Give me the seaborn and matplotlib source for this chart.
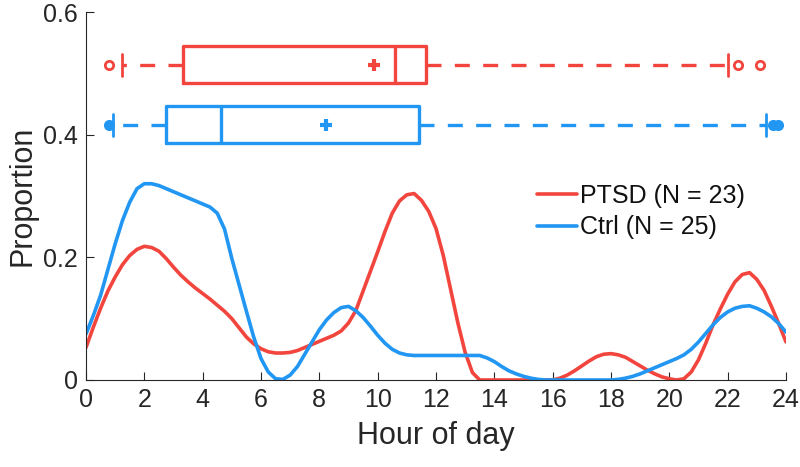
import numpy as np
import pandas as pd
import matplotlib
matplotlib.use("Agg")
import matplotlib.pyplot as plt
import seaborn as sns

# Hours on a quarter-hour grid and proportion
hours = [i * 0.25 for i in range(97)]

ptsd_prop = [0.053, 0.086, 0.117, 0.145, 0.168, 0.188, 0.203, 0.213,
             0.218, 0.216, 0.210, 0.198, 0.184, 0.171, 0.160, 0.150,
             0.141, 0.132, 0.122, 0.112, 0.100, 0.085, 0.070, 0.059,
             0.051, 0.046, 0.044, 0.044, 0.045, 0.048, 0.053, 0.058,
             0.063, 0.068, 0.073, 0.080, 0.093, 0.113, 0.145, 0.177,
             0.209, 0.242, 0.272, 0.292, 0.302, 0.304, 0.293, 0.275,
             0.247, 0.203, 0.148, 0.093, 0.045, 0.012, 0.000, 0.000,
             0.000, 0.000, 0.000, 0.000, 0.000, 0.000, 0.000, 0.000,
             0.000, 0.003, 0.008, 0.015, 0.023, 0.031, 0.038, 0.042,
             0.043, 0.041, 0.037, 0.030, 0.023, 0.016, 0.010, 0.005,
             0.002, 0.000, 0.002, 0.013, 0.033, 0.060, 0.090, 0.116,
             0.140, 0.160, 0.172, 0.175, 0.164, 0.146, 0.120, 0.092,
             0.062]

ctrl_prop = [0.075, 0.105, 0.138, 0.180, 0.222, 0.260, 0.290, 0.312,
             0.320, 0.320, 0.317, 0.312, 0.307, 0.302, 0.297, 0.292,
             0.287, 0.282, 0.272, 0.246, 0.198, 0.155, 0.112, 0.070,
             0.035, 0.013, 0.002, 0.001, 0.008, 0.022, 0.042, 0.062,
             0.082, 0.098, 0.110, 0.118, 0.120, 0.113, 0.102, 0.088,
             0.073, 0.060, 0.050, 0.044, 0.041, 0.040, 0.040, 0.040,
             0.040, 0.040, 0.040, 0.040, 0.040, 0.040, 0.040, 0.036,
             0.030, 0.022, 0.015, 0.010, 0.006, 0.003, 0.001, 0.000,
             0.000, 0.000, 0.000, 0.000, 0.000, 0.000, 0.000, 0.000,
             0.000, 0.001, 0.003, 0.006, 0.010, 0.015, 0.020, 0.025,
             0.030, 0.035, 0.041, 0.050, 0.062, 0.076, 0.090, 0.102,
             0.111, 0.117, 0.120, 0.121, 0.117, 0.111, 0.103, 0.092,
             0.078]

groups = ["PTSD (N = 23)", "Ctrl (N = 25)"]
colors = ["#F2453D", "#2196F3"]

# box summaries (hour of day)
box_q1 = [3.31, 2.74]
box_med = [10.60, 4.64]
box_q3 = [11.65, 11.42]
box_mean = [9.88, 8.24]
whisk_lo = [1.23, 0.92]
whisk_hi = [22.0, 23.3]
outliers = [[0.79, 22.35, 23.12], [0.79, 23.55, 23.72]]
box_y = [0.514, 0.416]

df = pd.DataFrame({
    "hour": hours * 2,
    "prop": ptsd_prop + ctrl_prop,
    "group": [groups[0]] * len(hours) + [groups[1]] * len(hours),
})

sns.set_style("ticks")
plt.rcParams["font.family"] = ["Liberation Sans", "DejaVu Sans"]
ink = "#262626"

fig = plt.figure(figsize=(8, 4.67), dpi=100)
ax = fig.add_axes([0.1075, 0.1863, 0.875, 0.788])

sns.lineplot(data=df, x="hour", y="prop", hue="group", palette=colors,
             linewidth=2.6, solid_joinstyle="round", ax=ax)

# boxplots on top
for i in range(2):
    st = [dict(med=box_med[i], q1=box_q1[i], q3=box_q3[i], mean=box_mean[i],
               whislo=whisk_lo[i], whishi=whisk_hi[i], fliers=outliers[i])]
    c = colors[i]
    ax.bxp(st, positions=[box_y[i]], widths=0.06, orientation="horizontal",
           showmeans=True, manage_ticks=False, capwidths=0.036,
           boxprops=dict(color=c, linewidth=2.4),
           medianprops=dict(color=c, linewidth=2.4),
           whiskerprops=dict(color=c, linewidth=2.4, linestyle=(0, (4.5, 4))),
           capprops=dict(color=c, linewidth=2.0),
           meanprops=dict(marker="+", markeredgecolor=c, markersize=9, markeredgewidth=3),
           flierprops=dict(marker="o", markersize=6, markeredgewidth=2, markeredgecolor=c,
                           markerfacecolor="white" if i == 0 else c))

ax.set_xlim(0, 24)
ax.set_ylim(0, 0.6)
ax.set_xticks(range(0, 25, 2))
ax.set_yticks([0, 0.2, 0.4, 0.6])
ax.set_yticklabels(["0", "0.2", "0.4", "0.6"])
ax.set_xlabel("Hour of day", fontsize=22, color=ink, labelpad=6)
ax.set_ylabel("Proportion", fontsize=22, color=ink, labelpad=4)
ax.tick_params(direction="in", length=6, width=0.8, colors=ink, labelsize=18, pad=6)
for s in ["top", "right"]:
    ax.spines[s].set_visible(False)
for s in ["left", "bottom"]:
    ax.spines[s].set_color(ink)
    ax.spines[s].set_linewidth(0.8)

leg = ax.legend(loc="upper left", bbox_to_anchor=(0.63, 0.56), frameon=False,
                fontsize=18, handlelength=1.6, handletextpad=0.1, labelspacing=0.3,
                borderaxespad=0)
for t in leg.get_texts():
    t.set_color("#111111")

fig.savefig("out.png", dpi=100)
